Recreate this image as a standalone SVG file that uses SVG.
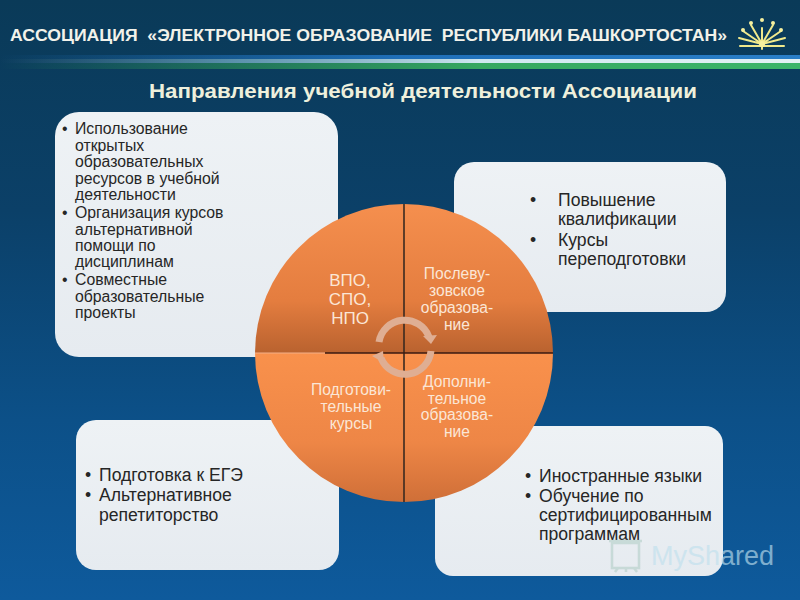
<svg xmlns="http://www.w3.org/2000/svg" width="800" height="600" viewBox="0 0 800 600">
<style>
text{font-family:"Liberation Sans",Arial,sans-serif}
.t{font-size:15.8px;fill:#262626}
.u{font-size:17.6px;fill:#262626}
.b{font-size:17.6px;fill:#262626}
.w{font-size:15.6px;fill:#fbe6d6;text-anchor:middle}
.box{fill:url(#box)}
</style>
<defs>
<linearGradient id="bg" x1="0" y1="0" x2="0" y2="1"><stop offset="0" stop-color="#0a3a58"/><stop offset=".35" stop-color="#0b4068"/><stop offset=".7" stop-color="#0c5088"/><stop offset="1" stop-color="#0e5a9c"/></linearGradient>
<linearGradient id="box" x1="0" y1="0" x2="0" y2="1"><stop offset="0" stop-color="#eef2f5"/><stop offset="1" stop-color="#e6ebf0"/></linearGradient>
<linearGradient id="top" x1="0" y1="0" x2="0" y2="1"><stop offset="0" stop-color="#f58f4e"/><stop offset=".65" stop-color="#e47d3f"/><stop offset="1" stop-color="#b9622f"/></linearGradient>
<linearGradient id="bot" x1="0" y1="0" x2="0" y2="1"><stop offset="0" stop-color="#f9914c"/><stop offset=".6" stop-color="#ee8646"/><stop offset="1" stop-color="#cf6f38"/></linearGradient>
<linearGradient id="ln1" x1="0" y1="0" x2="1" y2="0"><stop offset="0" stop-color="#7fb8d0" stop-opacity="0"/><stop offset=".3" stop-color="#7fb8d0" stop-opacity=".7"/><stop offset=".6" stop-color="#cfe8f0"/><stop offset="1" stop-color="#e4f2f4"/></linearGradient>
<linearGradient id="ln2" x1="0" y1="0" x2="1" y2="0"><stop offset="0" stop-color="#2f9a5a" stop-opacity="0"/><stop offset=".3" stop-color="#2f9a5a" stop-opacity=".6"/><stop offset=".6" stop-color="#35a860"/><stop offset="1" stop-color="#3cb56a"/></linearGradient>
<linearGradient id="ln0" x1="0" y1="0" x2="1" y2="0"><stop offset="0" stop-color="#1f6fb8" stop-opacity="0"/><stop offset=".5" stop-color="#1f6fb8"/><stop offset="1" stop-color="#2a7fc8"/></linearGradient>
</defs>
<rect width="800" height="600" fill="url(#bg)"/>
<g id="header">
<rect x="0" y="55" width="800" height="4" fill="url(#ln0)"/>
<rect x="0" y="59" width="800" height="4" fill="url(#ln1)"/>
<rect x="0" y="63" width="800" height="6" fill="url(#ln2)"/>
<text x="10" y="41" font-size="16" font-weight="bold" fill="#f2f2ea" textLength="717" lengthAdjust="spacingAndGlyphs" xml:space="preserve">АССОЦИАЦИЯ  «ЭЛЕКТРОННОЕ ОБРАЗОВАНИЕ  РЕСПУБЛИКИ БАШКОРТОСТАН»</text>
<g id="logo" stroke="#f0e98c" stroke-width="2" fill="none" stroke-linecap="round">
<path d="M762 49V28M762 44L751 25M762 44L773 25M762 44L743 31M762 44L781 31M762 44L739 38M762 44L785 38M740 46H784"/>
<g fill="#f6f0a0" stroke="none"><circle cx="762" cy="20" r="2"/><circle cx="751" cy="23" r="2"/><circle cx="773" cy="23" r="2"/><circle cx="743" cy="30" r="2"/><circle cx="781" cy="30" r="2"/><circle cx="762" cy="44" r="3"/></g>
</g>
<text x="149" y="98" font-size="21" font-weight="bold" fill="#eef0dc" textLength="548" lengthAdjust="spacingAndGlyphs">Направления учебной деятельности Ассоциации</text>
</g>
<g id="box-top-left">
<rect class="box" x="55" y="112" width="283" height="245" rx="24"/>
<g class="t">
<text x="62" y="134">•</text><text x="75" y="134">Использование</text><text x="75" y="151">открытых</text><text x="75" y="167">образовательных</text><text x="75" y="184">ресурсов в учебной</text><text x="75" y="200">деятельности</text>
<text x="62" y="218">•</text><text x="75" y="218">Организация курсов</text><text x="75" y="235">альтернативной</text><text x="75" y="251">помощи по</text><text x="75" y="267">дисциплинам</text>
<text x="62" y="285">•</text><text x="75" y="285">Совместные</text><text x="75" y="302">образовательные</text><text x="75" y="318">проекты</text>
</g>
</g>
<g id="box-top-right">
<rect class="box" x="454" y="162" width="272" height="150" rx="20"/>
<g class="u">
<text x="530" y="206">•</text><text x="558" y="206">Повышение</text><text x="558" y="225">квалификации</text>
<text x="530" y="246">•</text><text x="558" y="246">Курсы</text><text x="558" y="265">переподготовки</text>
</g>
</g>
<g id="box-bottom-left">
<rect class="box" x="76" y="420" width="263" height="150" rx="20"/>
<g class="b">
<text x="85" y="481">•</text><text x="99" y="481">Подготовка к ЕГЭ</text>
<text x="85" y="501">•</text><text x="99" y="501">Альтернативное</text><text x="99" y="521">репетиторство</text>
</g>
</g>
<g id="box-bottom-right">
<rect class="box" x="435" y="426" width="288" height="150" rx="18"/>
<g class="b">
<text x="525" y="482">•</text><text x="539" y="482">Иностранные языки</text>
<text x="525" y="502">•</text><text x="539" y="502">Обучение по</text><text x="539" y="521">сертифицированным</text><text x="539" y="540">программам</text>
</g>
</g>
<g id="watermark" opacity=".85">
<g fill="none" stroke="#9fc4b8" stroke-width="2.5" opacity=".5"><rect x="612" y="543" width="27" height="25"/><path d="M609 541H642M618 568L615 572M626 568V572M634 568L637 572"/></g>
<text x="651" y="565" font-size="27" fill="#bfe0ee" opacity=".75">MyShared</text>
</g>
<g id="circle">
<path id="q-tl" d="M404 353H255A149 149 0 0 1 404 204Z" fill="url(#top)"/>
<path id="q-tr" d="M404 353V204A149 149 0 0 1 553 353Z" fill="url(#top)"/>
<path id="q-bl" d="M404 353V502A149 149 0 0 1 255 353Z" fill="url(#bot)"/>
<path id="q-br" d="M404 353H553A149 149 0 0 1 404 502Z" fill="url(#bot)"/>
</g>
<g id="connectors">
<path d="M404 204V502" stroke="#3a2a20" stroke-width="1.6"/>
<path d="M325 353H553" stroke="#3a1a10" stroke-width="1.6"/>
<path d="M255 353H325" stroke="#f4b088" stroke-width="1"/>
<g fill="none" stroke="#dfae93" stroke-width="7">
<path d="M379 342A26 26 0 0 1 429 337"/>
<path d="M431 351A26 26 0 0 1 381 358"/>
</g>
<path d="M423 336L437 335L431 344Z" fill="#dfae93"/>
<path d="M384 363L372 356L383 351Z" fill="#dfae93"/>
</g>
<g id="labels">
<text class="w" x="350" y="286" style="font-size:17px">ВПО,</text><text class="w" x="350" y="305" style="font-size:17px">СПО,</text><text class="w" x="350" y="324" style="font-size:17px">НПО</text>
<text class="w" x="457" y="279">Послеву-</text><text class="w" x="457" y="296">зовское</text><text class="w" x="457" y="313">образова-</text><text class="w" x="457" y="330">ние</text>
<text class="w" x="351" y="395">Подготови-</text><text class="w" x="351" y="412">тельные</text><text class="w" x="351" y="429">курсы</text>
<text class="w" x="457" y="387">Дополни-</text><text class="w" x="457" y="404">тельное</text><text class="w" x="457" y="420">образова-</text><text class="w" x="457" y="437">ние</text>
</g>
</svg>
